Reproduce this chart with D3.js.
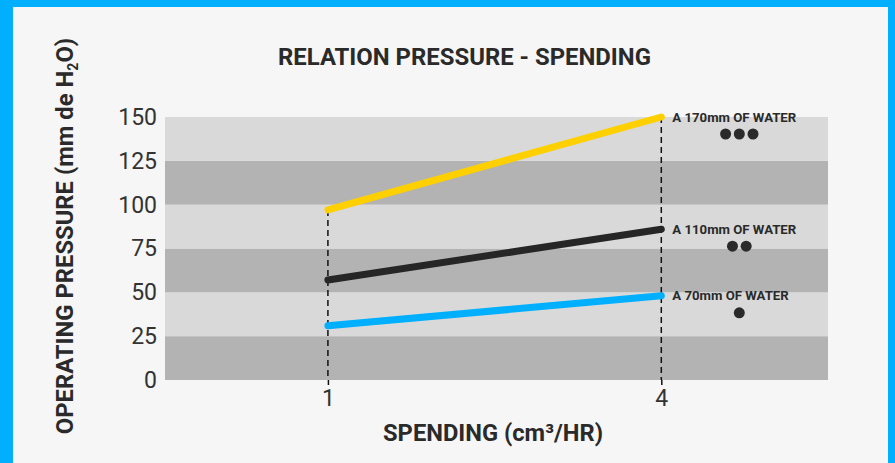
<!DOCTYPE html>
<html><head><meta charset="utf-8">
<script src="https://cdn.jsdelivr.net/npm/d3@7"></script>
<style>html,body{margin:0;padding:0;background:#00b0ff;}svg{display:block;}</style>
</head><body>
<svg id="c" width="895" height="463"></svg>
<script>
const xValues = [1, 4];
const xTicks = [1, 4];
const yTicks = [0, 25, 50, 75, 100, 125, 150];
const seriesNames = ["A 170mm OF WATER", "A 110mm OF WATER", "A 70mm OF WATER"];
const yellowValues = [97, 150];
const blackValues = [57, 86];
const blueValues = [31, 48];
const dotCounts = [3, 2, 1];
const seriesColors = ["#ffd000", "#262626", "#00b0ff"];
const bandStarts = [0, 25, 50, 75, 100, 125];

const W = 895, H = 463;
const svg = d3.select("#c");
// frame
svg.append("rect").attr("x", 13).attr("y", 7).attr("width", 888 - 13).attr("height", H - 7).attr("fill", "#f6f6f6");

const x = d3.scaleLinear().domain([-0.466, 5.5]).range([165, 828]);
const y = d3.scaleLinear().domain([0, 150]).range([380, 117]);

const g = svg.append("g");
g.selectAll("rect.band").data(bandStarts).join("rect")
  .attr("x", x.range()[0]).attr("width", x.range()[1] - x.range()[0])
  .attr("y", d => y(d + 25)).attr("height", d => y(d) - y(d + 25))
  .attr("fill", (d, i) => i % 2 === 0 ? "#b3b3b3" : "#d9d9d9");

const series = [yellowValues, blackValues, blueValues].map((v, i) => ({
  name: seriesNames[i], color: seriesColors[i], dots: dotCounts[i],
  pts: xValues.map((xv, j) => ({x: xv, y: v[j]}))
}));

// dashed verticals
xValues.forEach((xv, j) => {
  const top = d3.max(series, s => s.pts[j].y);
  g.append("line").attr("x1", x(xv)).attr("x2", x(xv))
    .attr("y1", y(top)).attr("y2", y(0))
    .attr("stroke", "#111").attr("stroke-width", 1.5).attr("stroke-dasharray", "6,4");
});

// x axis
const xAxis = svg.append("g").attr("transform", `translate(0,${y(0)})`)
  .call(d3.axisBottom(x).tickValues(xTicks).tickSize(5).tickPadding(5).tickFormat(d3.format("d")));
xAxis.select(".domain").remove();
xAxis.selectAll("line").attr("stroke", "#111").attr("stroke-width", 1.5);
xAxis.selectAll("text").attr("font-family", "Roboto").attr("font-size", 23).attr("fill", "#333");

// y axis
const yAxis = svg.append("g").attr("transform", `translate(${x.range()[0]},0)`)
  .call(d3.axisLeft(y).tickValues(yTicks).tickSize(0).tickPadding(8));
yAxis.select(".domain").remove();
yAxis.selectAll("text").attr("font-family", "Roboto").attr("font-size", 23).attr("fill", "#333");

// lines
const line = d3.line().x(d => x(d.x)).y(d => y(d.y));
series.forEach(s => {
  g.append("path").datum(s.pts).attr("d", line).attr("fill", "none")
    .attr("stroke", s.color).attr("stroke-width", 7).attr("stroke-linecap", "round");
});

// labels + dots
series.forEach(s => {
  const last = s.pts[s.pts.length - 1];
  g.append("text").attr("x", x(last.x) + 11).attr("y", y(last.y) + 4.5)
    .attr("font-family", "Roboto").attr("font-weight", "bold").attr("font-size", 13.2)
    .attr("fill", "#2a2a2a").text(s.name);
  const cx = x(last.x) + 78;
  const idx = d3.range(s.dots);
  g.selectAll(null).data(idx).join("circle")
    .attr("cx", i => cx + (i - (s.dots - 1) / 2) * 13.7)
    .attr("cy", y(last.y) + 17)
    .attr("r", 5.5).attr("fill", "#2a2a2a");
});

// titles
svg.append("text").attr("x", 464.5).attr("y", 65).attr("text-anchor", "middle")
  .attr("font-family", "Roboto").attr("font-weight", "bold").attr("font-size", 23.9)
  .attr("fill", "#2a2a2a").text("RELATION PRESSURE - SPENDING");
svg.append("text").attr("x", 493).attr("y", 441).attr("text-anchor", "middle")
  .attr("font-family", "Roboto").attr("font-weight", "bold").attr("font-size", 23.7)
  .attr("fill", "#2a2a2a").text("SPENDING (cm³/HR)");
const yt = svg.append("text").attr("transform", "translate(73,236) rotate(-90)")
  .attr("text-anchor", "middle")
  .attr("font-family", "Roboto").attr("font-weight", "bold").attr("font-size", 23.8)
  .attr("fill", "#2a2a2a");
yt.append("tspan").text("OPERATING PRESSURE (mm de H");
yt.append("tspan").attr("font-size", 14).attr("dy", 5).text("2");
yt.append("tspan").attr("dy", -5).text("O)");
</script>
</body></html>
